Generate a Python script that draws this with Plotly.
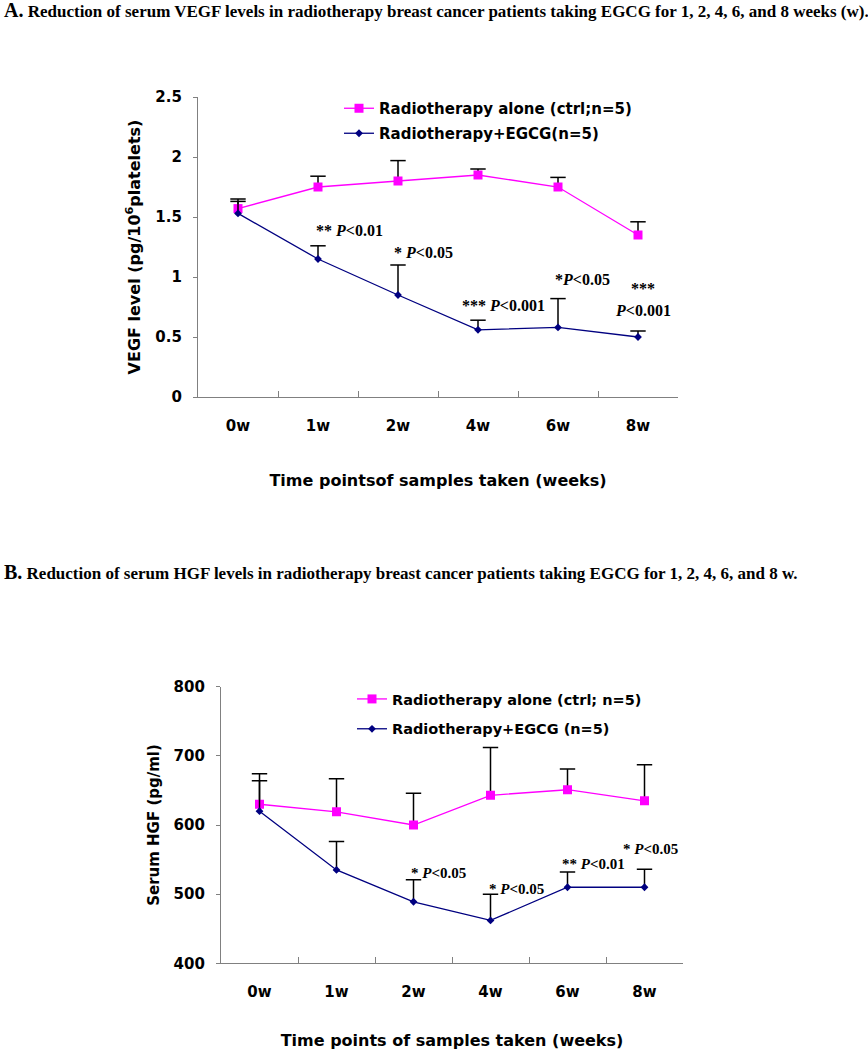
import plotly.graph_objects as go

# ---------------- data ----------------
weeks = ["0w", "1w", "2w", "4w", "6w", "8w"]

# Panel A: VEGF (pg/10^6 platelets)
vegf_ctrl = [1.57, 1.75, 1.80, 1.85, 1.75, 1.35]
vegf_ctrl_err = [0.08, 0.09, 0.17, 0.05, 0.08, 0.11]
vegf_egcg = [1.53, 1.15, 0.85, 0.56, 0.58, 0.50]
vegf_egcg_err = [0.10, 0.11, 0.25, 0.08, 0.24, 0.05]

# Panel B: HGF (pg/ml)
hgf_ctrl = [630, 619, 600, 643, 651, 635]
hgf_ctrl_err = [44, 48, 46, 69, 30, 52]
hgf_egcg = [620, 535, 489, 462, 510, 510]
hgf_egcg_err = [44, 41, 32, 38, 22, 26]

# significance labels: (week, text, y, pixel shift)
vegf_sig = [("1w", "** <i>P</i>&lt;0.01", 1.39, -4),
            ("2w", "* <i>P</i>&lt;0.05", 1.20, -6),
            ("4w", "*** <i>P</i>&lt;0.001", 0.76, -18),
            ("6w", "*<i>P</i>&lt;0.05", 0.975, -5),
            ("8w", "***", 0.90, -9),
            ("8w", "<i>P</i>&lt;0.001", 0.72, -25)]
hgf_sig = [("2w", "* <i>P</i>&lt;0.05", 531, -5),
           ("4w", "* <i>P</i>&lt;0.05", 508, -4),
           ("6w", "** <i>P</i>&lt;0.01", 543.5, -8),
           ("8w", "* <i>P</i>&lt;0.05", 566, -24)]

PINK = "#FF00FF"
NAVY = "#000080"
AXC = "#808080"
W, H = 868, 1050
SANS = "DejaVu Sans"
SERIF = "Liberation Serif"


def px2x(p):
    return p / W


def px2y(p):
    return 1 - p / H


fig = go.Figure()


def add_series(y, err, name, color, symbol, msize, xa, ya, legend, group):
    fig.add_trace(go.Scatter(
        x=weeks, y=y, name=name, mode="lines+markers",
        line=dict(color=color, width=1.3),
        marker=dict(symbol=symbol, size=msize, color=color),
        error_y=dict(type="data", symmetric=False, array=err,
                     arrayminus=[0] * len(err), color="black",
                     thickness=1.5, width=0),
        xaxis=xa, yaxis=ya, legend=legend, legendgroup=group,
    ))
    caps = [v + e for v, e in zip(y, err)]
    fig.add_trace(go.Scatter(
        x=weeks, y=caps, mode="markers", showlegend=False, hoverinfo="skip",
        marker=dict(symbol="line-ew", size=11, color="black",
                    line=dict(color="black", width=1.5)),
        xaxis=xa, yaxis=ya,
    ))


# Panel A
add_series(vegf_ctrl, vegf_ctrl_err, "Radiotherapy alone (ctrl;n=5)", PINK,
           "square", 9, "x", "y", "legend", "a1")
add_series(vegf_egcg, vegf_egcg_err, "Radiotherapy+EGCG(n=5)", NAVY,
           "diamond", 6, "x", "y", "legend", "a2")
# Panel B
add_series(hgf_ctrl, hgf_ctrl_err, "Radiotherapy alone (ctrl; n=5)", PINK,
           "square", 9, "x2", "y2", "legend2", "b1")
add_series(hgf_egcg, hgf_egcg_err, "Radiotherapy+EGCG (n=5)", NAVY,
           "diamond", 6, "x2", "y2", "legend2", "b2")

tickfont = dict(family=SANS, size=15, color="black", weight="bold")
titlefont = dict(family=SANS, size=16, color="black", weight="bold")

xcommon = dict(type="category", categoryorder="array", categoryarray=weeks,
               range=[-0.5, 5.5], showline=True, linecolor=AXC, linewidth=1.3,
               ticks="inside", tickson="boundaries", ticklen=6, tickcolor=AXC,
               tickwidth=1.3, showgrid=False, zeroline=False, tickfont=tickfont,
               ticklabelstandoff=15, automargin=False)
ycommon = dict(showline=True, linecolor=AXC, linewidth=1.3, ticks="outside",
               ticklen=4, tickcolor=AXC, tickwidth=1.3, showgrid=False,
               zeroline=False, tickfont=tickfont, ticklabelstandoff=8,
               automargin=False)

fig.update_layout(
    width=W, height=H, autosize=False,
    margin=dict(l=0, r=0, t=0, b=0, pad=0, autoexpand=False),
    paper_bgcolor="white", plot_bgcolor="white", showlegend=True,
    xaxis=dict(xcommon, domain=[px2x(198), px2x(678)], anchor="y",
               title=dict(text="Time pointsof samples taken (weeks)",
                          font=titlefont, standoff=40)),
    yaxis=dict(ycommon, domain=[px2y(397), px2y(97)], anchor="x",
               range=[0, 2.5], tickvals=[0, 0.5, 1, 1.5, 2, 2.5],
               ticktext=["0", "0.5", "1", "1.5", "2", "2.5"],
               title=dict(text="VEGF level (pg/10<sup>6</sup>platelets)",
                          font=titlefont, standoff=10)),
    xaxis2=dict(xcommon, domain=[px2x(221), px2x(683)], anchor="y2",
                title=dict(text="Time points of samples taken (weeks)",
                           font=titlefont, standoff=34)),
    yaxis2=dict(ycommon, domain=[px2y(963.3), px2y(686.7)], anchor="x2",
                range=[400, 800], tickvals=[400, 500, 600, 700, 800],
                title=dict(text="Serum HGF (pg/ml)",
                           font=dict(titlefont, size=15), standoff=10)),
    legend=dict(x=px2x(339), y=px2y(92), xanchor="left", yanchor="top",
                bgcolor="rgba(0,0,0,0)", traceorder="grouped",
                tracegroupgap=2.5,
                font=dict(family=SANS, size=15, color="black", weight="bold")),
    legend2=dict(x=px2x(352), y=px2y(683), xanchor="left", yanchor="top",
                 bgcolor="rgba(0,0,0,0)", traceorder="grouped",
                 tracegroupgap=8,
                 font=dict(family=SANS, size=14.5, color="black",
                           weight="bold")),
)

annots = []
for wk, txt, yv, sh in vegf_sig:
    annots.append(dict(x=wk, y=yv, xref="x", yref="y", text=txt,
                       showarrow=False, xanchor="left", yanchor="middle",
                       xshift=sh,
                       font=dict(family=SERIF, size=16, color="black",
                                 weight="bold")))
for wk, txt, yv, sh in hgf_sig:
    annots.append(dict(x=wk, y=yv, xref="x2", yref="y2", text=txt,
                       showarrow=False, xanchor="left", yanchor="middle",
                       xshift=sh,
                       font=dict(family=SERIF, size=15, color="black",
                                 weight="bold")))

annots.append(dict(
    x=0.002, y=px2y(10), xref="paper", yref="paper", xanchor="left",
    yanchor="middle", showarrow=False,
    text='<span style="font-size:20px">A.</span> Reduction of serum VEGF levels in radiotherapy breast cancer patients taking EGCG for 1, 2, 4, 6, and 8 weeks (w).',
    font=dict(family=SERIF, size=17, color="black", weight="bold")))
annots.append(dict(
    x=0.002, y=px2y(572), xref="paper", yref="paper", xanchor="left",
    yanchor="middle", showarrow=False,
    text='<span style="font-size:20px">B.</span> Reduction of serum HGF levels in radiotherapy breast cancer patients taking EGCG for 1, 2, 4, 6, and 8 w.',
    font=dict(family=SERIF, size=17, color="black", weight="bold")))

fig.update_layout(annotations=annots)

page_fix = (
    "document.documentElement.style.margin='0px';"
    "document.body.style.margin='0px';"
    "document.documentElement.style.overflow='hidden';"
    "document.body.style.overflow='hidden';"
    "var gd=document.getElementById('{plot_id}');"
    "gd.style.position='absolute';gd.style.left='0px';gd.style.top='0px';"
)

fig.write_html("out.html", config={"displayModeBar": False},
               post_script=page_fix)
